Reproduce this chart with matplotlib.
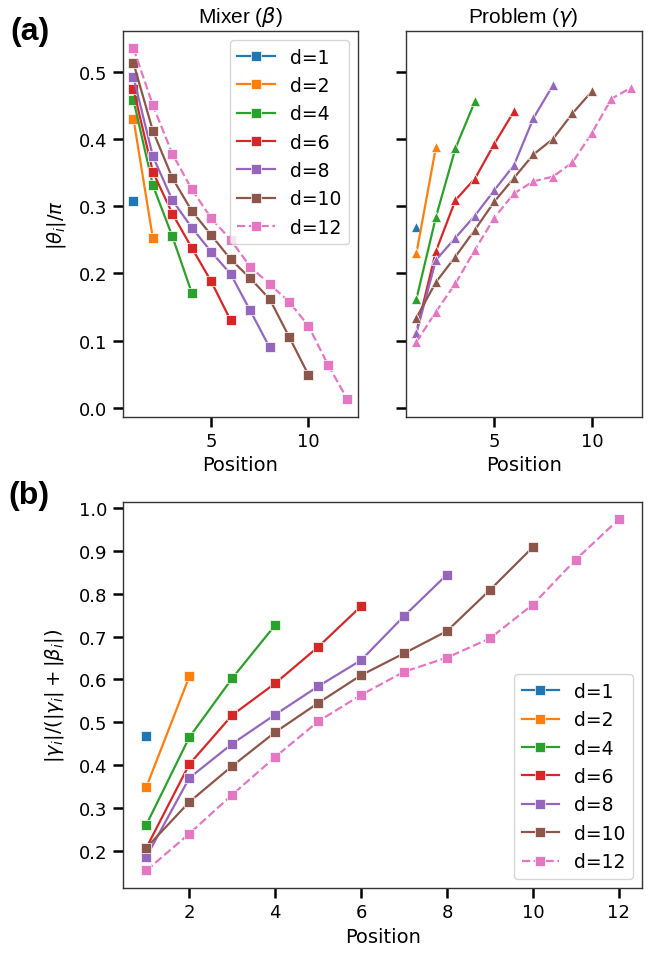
"""Mixer / problem angle profiles per layer for several circuit depths."""

import matplotlib

matplotlib.use("Agg")
import matplotlib.pyplot as plt
from matplotlib.ticker import MultipleLocator

DEPTHS = [1, 2, 4, 6, 8, 10, 12]
COLORS = ["#1f77b4", "#ff7f0e", "#2ca02c", "#d62728", "#9467bd", "#8c564b", "#e377c2"]

# |beta_i| / pi
mixer = {
    1: [0.308],
    2: [0.430, 0.252],
    4: [0.458, 0.331, 0.255, 0.171],
    6: [0.474, 0.351, 0.289, 0.238, 0.188, 0.130],
    8: [0.492, 0.374, 0.309, 0.268, 0.232, 0.199, 0.145, 0.090],
    10: [0.513, 0.412, 0.342, 0.293, 0.257, 0.221, 0.193, 0.162, 0.106, 0.049],
    12: [0.535, 0.450, 0.378, 0.325, 0.282, 0.250, 0.210, 0.184, 0.158, 0.122,
         0.064, 0.013],
}

# |gamma_i| / pi
problem = {
    1: [0.269],
    2: [0.230, 0.388],
    4: [0.162, 0.284, 0.386, 0.456],
    6: [0.113, 0.233, 0.309, 0.341, 0.393, 0.441],
    8: [0.111, 0.220, 0.253, 0.286, 0.324, 0.361, 0.431, 0.480],
    10: [0.134, 0.187, 0.225, 0.265, 0.307, 0.342, 0.377, 0.400, 0.438, 0.471],
    12: [0.098, 0.143, 0.185, 0.235, 0.283, 0.319, 0.337, 0.344, 0.365, 0.409,
         0.460, 0.476],
}

# |gamma_i| / (|gamma_i| + |beta_i|)
ratio = {
    1: [0.469],
    2: [0.349, 0.607],
    4: [0.261, 0.465, 0.603, 0.727],
    6: [0.207, 0.402, 0.517, 0.591, 0.676, 0.771],
    8: [0.186, 0.370, 0.450, 0.518, 0.584, 0.645, 0.748, 0.845],
    10: [0.207, 0.314, 0.398, 0.477, 0.545, 0.610, 0.661, 0.713, 0.809, 0.909],
    12: [0.154, 0.240, 0.331, 0.419, 0.502, 0.564, 0.618, 0.651, 0.696, 0.775,
         0.880, 0.974],
}

plt.rcParams.update({
    "axes.edgecolor": "#333333",
    "axes.linewidth": 1.0,
    "xtick.major.size": 7.5,
    "ytick.major.size": 7.5,
    "xtick.major.width": 1.8,
    "ytick.major.width": 1.8,
    "xtick.labelsize": 13,
    "ytick.labelsize": 13,
    "axes.labelsize": 14,
    "legend.fontsize": 13.5,
})

TITLE_FONT = ["Liberation Sans", "DejaVu Sans"]


def draw(ax, data, marker):
    for d, color in zip(DEPTHS, COLORS):
        vals = data[d]
        pos = list(range(1, len(vals) + 1))
        ax.plot(pos, vals, marker=marker, color=color, lw=1.6, ms=6.8,
                mec="white", mew=0.5, ls="--" if d == 12 else "-",
                label=f"d={d}")


fig = plt.figure(figsize=(6.6, 9.54), dpi=100)
ax_m = fig.add_axes([0.186, 0.5622, 0.3565, 0.4046])
ax_p = fig.add_axes([0.6147, 0.5622, 0.3576, 0.4046], sharey=ax_m)
ax_r = fig.add_axes([0.186, 0.0681, 0.7873, 0.4049])

draw(ax_m, mixer, "s")
draw(ax_p, problem, "^")
draw(ax_r, ratio, "s")

ax_m.set_title(r"Mixer ($\beta$)", fontsize=15, family=TITLE_FONT)
ax_p.set_title(r"Problem ($\gamma$)", fontsize=15, family=TITLE_FONT)
ax_m.set_ylabel(r"$|\theta_i|/\pi$", labelpad=8)
for ax in (ax_m, ax_p, ax_r):
    ax.set_xlabel("Position")
ax_p.tick_params(labelleft=False)
ax_m.set_xticks([5, 10])
ax_p.set_xticks([5, 10])
ax_m.legend(loc="upper right")

ax_r.set_ylabel(r"$|\gamma_i|/(|\gamma_i|+|\beta_i|)$", labelpad=9)
ax_r.set_xticks(range(2, 13, 2))
ax_r.yaxis.set_major_locator(MultipleLocator(0.1))
ax_r.legend(loc="lower right")

fig.text(0.015, 0.966, "(a)", fontsize=23, fontweight="bold", family=TITLE_FONT,
         va="center")
fig.text(0.012, 0.480, "(b)", fontsize=23, fontweight="bold", family=TITLE_FONT,
         va="center")

fig.savefig("out.png", dpi=100)
